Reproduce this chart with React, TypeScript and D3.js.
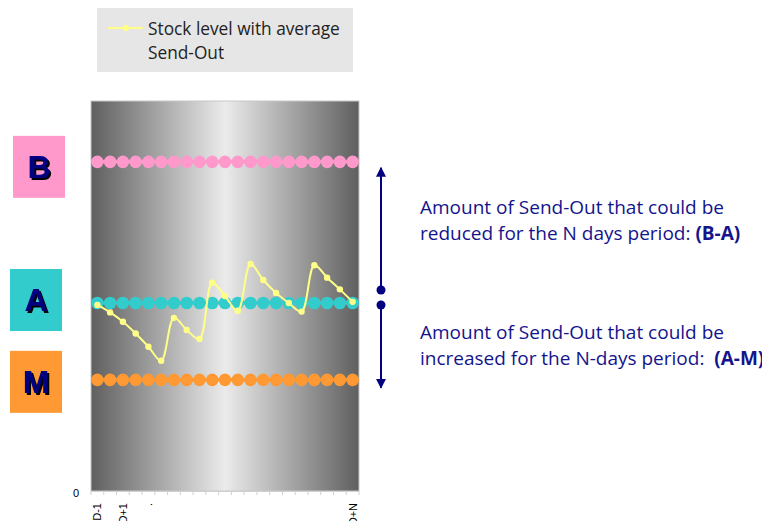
import React, { useEffect, useRef } from 'react';
import * as d3 from 'd3';

// categories (days) and their axis labels
const days = d3.range(21).map(i => `d${i}`);
const dayLabels = ['D-1', '', 'D+1', '', '.', '', '', '', '', '', '', '', '', '', '', '', '', '', '', '', 'D+N'];

// stock levels (0..100 scale)
const levelB = days.map(() => 84.4);
const levelA = days.map(() => 48.2);
const levelM = days.map(() => 28.5);
const stock = [47.7, 45.8, 43.4, 40.4, 37.0, 33.4, 44.4, 41.3, 39.0, 53.4, 50.0,
  46.2, 58.2, 54.1, 50.8, 48.2, 46.0, 57.9, 54.7, 51.7, 48.5];

const yMax = 100;
const font = '"Open Sans", sans-serif';
const navy = '#000080';

const Chart = () => {
  const svgRef = useRef(null);

  useEffect(() => {
    const width = 770, height = 529;
    const left = 91, right = 359, top = 101, bottom = 491;

    const svg = d3.select(svgRef.current)
      .attr('width', width)
      .attr('height', height);
    svg.selectAll('*').remove();

    const x = d3.scaleBand().domain(days).range([left, right]).padding(0);
    const cx = d => x(d) + x.bandwidth() / 2;
    const y = d3.scaleLinear().domain([0, yMax]).range([bottom, top]);

    // background gradient of plot area
    const defs = svg.append('defs');
    const grad = defs.append('linearGradient').attr('id', 'bg')
      .attr('x1', '0%').attr('x2', '100%').attr('y1', '0%').attr('y2', '0%');
    grad.append('stop').attr('offset', '0%').attr('stop-color', '#5f5f5f');
    grad.append('stop').attr('offset', '50%').attr('stop-color', '#ebebeb');
    grad.append('stop').attr('offset', '100%').attr('stop-color', '#5f5f5f');

    const shadow = defs.append('filter').attr('id', 'shadow')
      .attr('x', '-20%').attr('y', '-20%').attr('width', '150%').attr('height', '150%');
    shadow.append('feDropShadow').attr('dx', 2).attr('dy', 2).attr('stdDeviation', 0)
      .attr('flood-color', '#000').attr('flood-opacity', 1);

    defs.append('marker').attr('id', 'arrow').attr('viewBox', '0 0 10 10')
      .attr('refX', 9).attr('refY', 5).attr('markerWidth', 5).attr('markerHeight', 5)
      .attr('orient', 'auto-start-reverse').attr('markerUnits', 'strokeWidth')
      .append('path').attr('d', 'M0,0 L10,5 L0,10 Z').attr('fill', navy);

    svg.append('rect')
      .attr('x', left).attr('y', top)
      .attr('width', right - left).attr('height', bottom - top)
      .attr('fill', 'url(#bg)')
      .attr('stroke', '#c8c8c8');

    // x axis ticks between categories
    const tickPos = days.map(d => x(d)).concat([right]);
    svg.append('line')
      .attr('x1', left).attr('x2', right).attr('y1', bottom + 0.5).attr('y2', bottom + 0.5)
      .attr('stroke', '#d0d0d0');
    svg.append('g').selectAll('line').data(tickPos).join('line')
      .attr('x1', d => d).attr('x2', d => d)
      .attr('y1', bottom).attr('y2', bottom + 4)
      .attr('stroke', '#d0d0d0');

    svg.append('g').selectAll('text').data(days).join('text')
      .attr('transform', d => `translate(${cx(d) + 4},${bottom + 12}) rotate(-90)`)
      .attr('text-anchor', 'end')
      .style('font-family', '"Liberation Sans", Arial, sans-serif')
      .style('font-size', '11px')
      .text((d, i) => dayLabels[i]);

    svg.append('text')
      .attr('x', left - 12).attr('y', y(0) + 6)
      .attr('text-anchor', 'end')
      .style('font-family', '"Liberation Sans", Arial, sans-serif')
      .style('font-size', '11px')
      .text('0');

    // level series B, A, M
    const levels = [
      { values: levelB, color: '#ff99cc' },
      { values: levelA, color: '#33cccc' },
      { values: levelM, color: '#ff9933' }
    ];
    levels.forEach(s => {
      const line = d3.line().x((v, i) => cx(days[i])).y(v => y(v));
      svg.append('path').datum(s.values)
        .attr('fill', 'none').attr('stroke', s.color).attr('stroke-width', 3)
        .attr('d', line);
      svg.append('g').selectAll('circle').data(s.values).join('circle')
        .attr('cx', (v, i) => cx(days[i])).attr('cy', v => y(v))
        .attr('r', 6.3).attr('fill', s.color);
    });

    // stock level line
    const stockLine = d3.line()
      .x((v, i) => cx(days[i])).y(v => y(v))
      .curve(d3.curveCatmullRom.alpha(0.5));
    svg.append('path').datum(stock)
      .attr('fill', 'none').attr('stroke', '#ffff88').attr('stroke-width', 2)
      .attr('d', stockLine);
    svg.append('g').selectAll('circle').data(stock).join('circle')
      .attr('cx', (v, i) => cx(days[i])).attr('cy', v => y(v))
      .attr('r', 3.2).attr('fill', '#ffff88');

    // legend
    svg.append('rect').attr('x', 97).attr('y', 5).attr('width', 256).attr('height', 67)
      .attr('fill', '#e6e6e6');
    svg.append('line').attr('x1', 108).attr('x2', 143).attr('y1', 28).attr('y2', 28)
      .attr('stroke', '#ffff88').attr('stroke-width', 2);
    svg.append('circle').attr('cx', 126).attr('cy', 28).attr('r', 3).attr('fill', '#ffff88');
    const legendText = svg.append('text')
      .style('font-family', font).style('font-size', '17.3px').attr('fill', '#222');
    legendText.append('tspan').attr('x', 148).attr('y', 35).text('Stock level with average');
    legendText.append('tspan').attr('x', 148).attr('y', 59).text('Send-Out');

    // labelled boxes on the left
    const boxes = [
      { label: 'B', value: levelB[0], color: '#ff99cc', x: 13, dy: 5 },
      { label: 'A', value: levelA[0], color: '#33cccc', x: 10, dy: -3 },
      { label: 'M', value: levelM[0], color: '#ff9933', x: 10, dy: 2 }
    ];
    boxes.forEach(b => {
      const yc = y(b.value) + b.dy;
      svg.append('rect').attr('x', b.x).attr('y', yc - 31).attr('width', 52).attr('height', 62)
        .attr('fill', b.color);
      svg.append('text')
        .attr('x', b.x + 26).attr('y', yc + 11)
        .attr('text-anchor', 'middle')
        .attr('fill', navy)
        .attr('filter', 'url(#shadow)')
        .style('font-family', '"Liberation Sans", Arial, sans-serif')
        .style('font-size', '32px').style('font-weight', 'bold')
        .text(b.label);
    });

    // double arrow annotation
    const ax = 381;
    svg.append('line').attr('x1', ax).attr('x2', ax)
      .attr('y1', y(levelA[0]) - 13).attr('y2', y(levelB[0]) + 6)
      .attr('stroke', navy).attr('stroke-width', 2).attr('marker-end', 'url(#arrow)');
    svg.append('line').attr('x1', ax).attr('x2', ax)
      .attr('y1', y(levelA[0]) + 2).attr('y2', y(levelM[0]) + 8)
      .attr('stroke', navy).attr('stroke-width', 2).attr('marker-end', 'url(#arrow)');
    svg.append('circle').attr('cx', ax).attr('cy', y(levelA[0]) - 13).attr('r', 4.5).attr('fill', navy);
    svg.append('circle').attr('cx', ax).attr('cy', y(levelA[0]) + 2).attr('r', 4.5).attr('fill', navy);

    const note = (y1, line1, line2, bold) => {
      const t = svg.append('text').style('font-family', font).style('font-size', '19px')
        .style('white-space', 'pre')
        .attr('fill', '#14148c');
      t.append('tspan').attr('x', 420).attr('y', y1).text(line1);
      t.append('tspan').attr('x', 420).attr('y', y1 + 26).text(line2);
      t.append('tspan').style('font-weight', 'bold').text(bold);
    };
    note(214, 'Amount of Send-Out that could be', 'reduced for the N days period: ', '(B-A)');
    note(339, 'Amount of Send-Out that could be', 'increased for the N-days period:  ', '(A-M)');
  }, []);

  return <svg ref={svgRef} style={{ display: 'block' }}></svg>;
};

export default function App() {
  return (
    <div style={{ margin: -8 }}>
      <Chart />
    </div>
  );
}
